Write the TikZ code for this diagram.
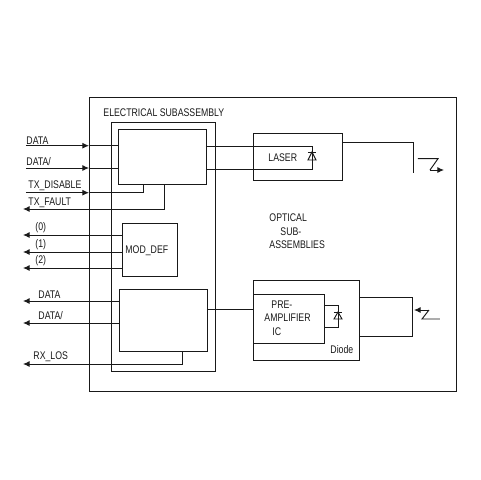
\documentclass[tikz,border=0pt]{standalone}
\usepackage{fontspec}
\setmainfont[FakeStretch=0.79]{Liberation Sans}
\usetikzlibrary{arrows.meta}
\tikzset{
 x=0.75pt,y=-0.75pt,
 every path/.style={line width=0.7pt,color=black!90},
 blk/.style={draw,line width=0.7pt,inner sep=0pt,outer sep=0pt},
 lab/.style={anchor=west,inner sep=0pt,font=\fontsize{8.3}{9}\selectfont,text=black!90},
 tipr/.style={-{Latex[length=5pt,width=4.5pt]}}
}
\begin{document}
\begin{tikzpicture}
\useasboundingbox (0,0) rectangle (480,480);
\fill[white] (0,0) rectangle (480,480);
\node[blk,minimum width=367*0.75pt,minimum height=294*0.75pt] (outer) at (272.5,244) {};
\node[blk,minimum width=104*0.75pt,minimum height=249*0.75pt] (elec) at (163,246.5) {};
\node[blk,minimum width=88*0.75pt,minimum height=55.5*0.75pt] (top) at (162,156.8) {};
\node[blk,minimum width=55*0.75pt,minimum height=53*0.75pt] (mod) at (149.5,249.5) {};
\node[blk,minimum width=88*0.75pt,minimum height=62*0.75pt] (bot) at (163,320) {};
\node[blk,minimum width=89*0.75pt,minimum height=46.5*0.75pt] (laser) at (297.5,156.8) {};
\node[blk,minimum width=106*0.75pt,minimum height=80*0.75pt] (dio) at (306,320) {};
\node[blk,minimum width=71*0.75pt,minimum height=49*0.75pt] (pre) at (288.5,318.5) {};
\node[blk,minimum width=53*0.75pt,minimum height=39*0.75pt] (fib) at (385.5,316.5) {};
% free ends
\coordinate (a1) at (26,145.7);
\coordinate (a2) at (26,168);
\coordinate (a3) at (26,192.7);
\coordinate (a4) at (23,209);
\coordinate (b0) at (23,235);
\coordinate (b1) at (23,252);
\coordinate (b2) at (23,268);
\coordinate (c1) at (23,301);
\coordinate (c2) at (23,323);
\coordinate (c3) at (23,364);
\coordinate (la) at (312,146.7);
\coordinate (lb) at (312,169);
\coordinate (f1) at (413,142.5);
\coordinate (f2) at (413,172.7);
\coordinate (z1) at (418,158.7);
\coordinate (z2) at (438,158.7);
\coordinate (z3) at (430,170);
\coordinate (z4) at (444,170);
\coordinate (y1) at (440,319);
\coordinate (y2) at (422,319);
\coordinate (y3) at (429,310);
\coordinate (y4) at (414,310);
\coordinate (d1) at (338,305);
\coordinate (d2) at (338,327);
\coordinate (s1) at (143,192.7);
\coordinate (s2) at (164,209);
\coordinate (s3) at (182,364);
\coordinate (s4) at (0,309);
% inputs
\draw (a1 -| outer.west) -- (a1 -| top.west);
\draw[tipr] (a1) -- (a1 -| outer.west);
\draw (a2 -| outer.west) -- (a2 -| top.west);
\draw[tipr] (a2) -- (a2 -| outer.west);
\draw (a3 -| outer.west) -- (s1) -- (s1 |- top.south);
\draw[tipr] (a3) -- (a3 -| outer.west);
\draw[tipr] (s2 |- top.south) -- (s2) -- (a4);
% mod def
\draw[tipr] (b0 -| mod.west) -- (b0);
\draw[tipr] (b1 -| mod.west) -- (b1);
\draw[tipr] (b2 -| mod.west) -- (b2);
% bottom
\draw[tipr] (c1 -| bot.west) -- (c1);
\draw[tipr] (c2 -| bot.west) -- (c2);
\draw[tipr] (s3 |- bot.south) -- (s3) -- (c3);
% laser
\draw (la -| top.east) -- (la) -- (lb) -- (lb -| top.east);
\draw (f1 -| laser.east) -- (f1) -- (f2);
\draw (z1) -- (z2) -- (z3);
\draw[tipr] (z3) -- (z4);
\draw (308,152) -- (316,152);
\draw (312,152) -- (308,160) -- (316,160) -- cycle;
% receiver
\draw (s4 -| bot.east) -- (s4 -| pre.west);
\draw (d1 -| pre.east) -- (d1) -- (d2) -- (d2 -| pre.east);
\draw (334,312) -- (342,312);
\draw (338,312) -- (334,319) -- (342,319) -- cycle;
\draw (y1) -- (y2) -- (y3);
\draw[tipr] (y3) -- (y4);
% labels
\node[lab] (t1) at (103,113) {ELECTRICAL SUBASSEMBLY};
\node[lab] (t2) at (26,141) {DATA};
\node[lab] (t3) at (26,162) {DATA/};
\node[lab] (t4) at (28,186) {TX\_DISABLE};
\node[lab] (t5) at (28,203) {TX\_FAULT};
\node[lab] (t6) at (35,228) {(0)};
\node[lab] (t7) at (35,245) {(1)};
\node[lab] (t8) at (35,261) {(2)};
\node[lab] (t9) at (125,251) {MOD\_DEF};
\node[lab] (t10) at (38,295) {DATA};
\node[lab] (t11) at (38,316) {DATA/};
\node[lab] (t12) at (33,357) {RX\_LOS};
\node[lab] (t13) at (268,158) {LASER};
\node[lab] (t14) at (269,218) {OPTICAL};
\node[lab] (t15) at (280,232) {SUB-};
\node[lab] (t16) at (269,245) {ASSEMBLIES};
\node[lab] (t17) at (271,305) {PRE-};
\node[lab] (t18) at (264,318) {AMPLIFIER};
\node[lab] (t19) at (272,332) {IC};
\node[lab] (t20) at (330,350) {Diode};
\end{tikzpicture}
\end{document}
